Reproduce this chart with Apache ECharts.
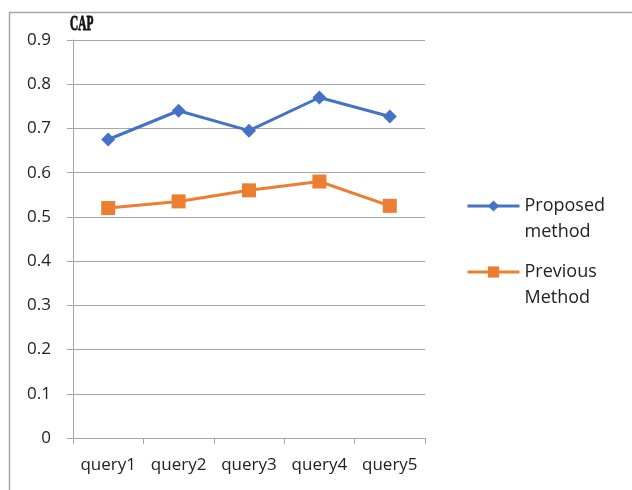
<!DOCTYPE html>
<html>
<head>
<meta charset="utf-8">
<script src="https://cdn.jsdelivr.net/npm/echarts@6/dist/echarts.min.js"></script>
<style>
  html, body { margin: 0; padding: 0; background: #fff; }
  #chart { width: 632px; height: 490px; }
</style>
</head>
<body>
<div id="chart"></div>
<script>
// Query categories and CAP scores per method
const categories = ['query1', 'query2', 'query3', 'query4', 'query5'];
const proposedMethod = [0.675, 0.74, 0.695, 0.77, 0.727];
const previousMethod = [0.52, 0.535, 0.56, 0.58, 0.525];
const yTicks = [0, 0.1, 0.2, 0.3, 0.4, 0.5, 0.6, 0.7, 0.8, 0.9];

const chart = echarts.init(document.getElementById('chart'), null, { renderer: 'canvas' });
const labelFont = '"Open Sans", "Noto Sans", sans-serif';

// One legend block per series; a leading empty line keeps the marker level
// with the first line of the two-line name
function legendBlock(name, top) {
  return {
    orient: 'vertical',
    left: 466,
    top: top,
    padding: 0,
    itemWidth: 52,
    itemHeight: 14,
    lineStyle: { width: 3 },
    textStyle: { fontFamily: labelFont, fontSize: 18, color: '#222', lineHeight: 26 },
    formatter: function (n) { return '\n' + n.replace(' ', '\n'); },
    data: [name]
  };
}

chart.setOption({
  animation: false,
  backgroundColor: '#fff',
  grid: { left: 73, right: 207, top: 40, bottom: 52 },
  graphic: [
    { type: 'line', shape: { x1: 9.5, y1: 12, x2: 9.5, y2: 490 }, style: { stroke: '#a6a6a6', lineWidth: 1.5 } },
    { type: 'line', shape: { x1: 9, y1: 12.5, x2: 632, y2: 12.5 }, style: { stroke: '#a6a6a6', lineWidth: 1.5 } },
    {
      type: 'text', x: 70, y: 14, scaleX: 0.54,
      style: { text: 'CAP', font: 'bold 21px "Liberation Serif", serif', fill: '#111', stroke: '#111', lineWidth: 0.9 }
    }
  ],
  legend: [legendBlock('Proposed method', 167), legendBlock('Previous Method', 233)],
  xAxis: {
    type: 'category',
    data: categories,
    boundaryGap: true,
    axisLine: { lineStyle: { color: '#a6a6a6', width: 1 } },
    axisTick: { show: true, interval: 0, length: 6, lineStyle: { color: '#a6a6a6' } },
    axisLabel: { interval: 0, fontFamily: labelFont, fontSize: 17, color: '#222', margin: 19 },
    splitLine: { show: false }
  },
  yAxis: {
    type: 'value',
    min: 0,
    max: yTicks[yTicks.length - 1],
    interval: 0.1,
    axisLine: { show: true, lineStyle: { color: '#a6a6a6', width: 1 } },
    axisTick: { show: true, length: 6, lineStyle: { color: '#a6a6a6' } },
    axisLabel: {
      fontFamily: labelFont, fontSize: 17, color: '#222', margin: 22,
      formatter: function (v) { return String(Math.round(v * 10) / 10); }
    },
    splitLine: { show: true, lineStyle: { color: '#a6a6a6', width: 1 } }
  },
  series: [
    {
      name: 'Proposed method',
      type: 'line',
      data: proposedMethod,
      symbol: 'diamond',
      symbolSize: 14,
      itemStyle: { color: '#4472c4' },
      lineStyle: { color: '#4472c4', width: 3 }
    },
    {
      name: 'Previous Method',
      type: 'line',
      data: previousMethod,
      symbol: 'rect',
      symbolSize: 14,
      itemStyle: { color: '#ed7d31' },
      lineStyle: { color: '#ed7d31', width: 3 }
    }
  ]
});
</script>
</body>
</html>
